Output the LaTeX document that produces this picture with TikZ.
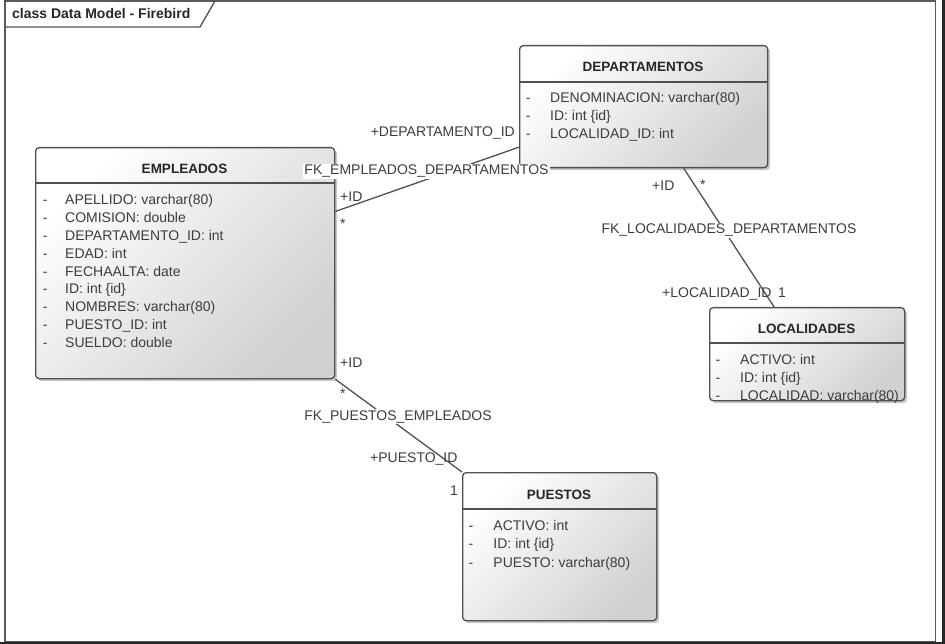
\documentclass[tikz,border=0pt]{standalone}
\usepackage{fontspec}
\setmainfont{Liberation Sans}
\usetikzlibrary{shadows}
\definecolor{ln}{HTML}{505050}
\definecolor{tx}{HTML}{3C3C3C}
\definecolor{tt}{HTML}{262626}
\begin{document}
\begin{tikzpicture}[x=1pt,y=-1pt,
  box/.style={draw=ln, line width=1.3pt, rounded corners=3.5pt,
    top color=white, bottom color=black!18, shading angle=45,
    drop shadow={shadow xshift=2.5pt, shadow yshift=-2.5pt, opacity=.3, fill=black!70},
    inner sep=0pt, anchor=north west},
  sep/.style={draw=ln, line width=1.3pt},
  attr/.style={font=\fontsize{14}{16}\selectfont, text=tx, inner sep=0pt, anchor=base west},
  ttl/.style={font=\fontsize{13.5}{16}\selectfont\bfseries, text=tt, inner sep=0pt, anchor=base},
  lbl/.style={font=\fontsize{14}{16}\selectfont, text=tx, inner sep=0pt, anchor=base west},
  fk/.style={font=\fontsize{14}{16}\selectfont, text=tx, inner sep=1pt, anchor=base, fill=white},
  conn/.style={draw=ln, line width=1.3pt}]
\useasboundingbox (0,0) rectangle (945,644);
% frame
\draw[line width=1.5pt, draw=black!65] (5,1) rectangle (935.5,642);
\fill[black!85] (942,0) rectangle (945,644);
\fill[black!85] (0,641.8) rectangle (945,644);
\draw[line width=1.3pt, draw=ln] (5,27) -- (200,27) -- (215,1);
\node[lbl, text=tt, font=\fontsize{14}{16}\selectfont\bfseries] (frametitle) at (12,19) {class Data Model - Firebird};
% EMPLEADOS
\node[box, minimum width=299pt, minimum height=231pt] (emp) at (35,147) {};
\draw[sep] (35,183) -- (334,183);
\node[ttl] (empt) at (184.5,174) {EMPLEADOS};
\foreach \t [count=\i] in {APELLIDO: varchar(80), COMISION: double, DEPARTAMENTO\_ID: int, EDAD: int, FECHAALTA: date, ID: int \{id\}, NOMBRES: varchar(80), PUESTO\_ID: int, SUELDO: double}
  \node[attr] (empa\i) at (42.7,{205+17.8*(\i-1)}) {\makebox[22.3pt][l]{-}\t};
% DEPARTAMENTOS
\node[box, minimum width=248pt, minimum height=122pt] (dept) at (519,45) {};
\draw[sep] (519,82) -- (767,82);
\node[ttl] (deptt) at (643,72) {DEPARTAMENTOS};
\foreach \t [count=\i] in {DENOMINACION: varchar(80), ID: int \{id\}, LOCALIDAD\_ID: int}
  \node[attr] (depta\i) at (525.7,{103+17.7*(\i-1)}) {\makebox[24.3pt][l]{-}\t};
% LOCALIDADES
\node[box, minimum width=195pt, minimum height=93pt] (loc) at (709,307) {};
\draw[sep] (709,343) -- (904,343);
\node[ttl] (loct) at (806.5,334) {LOCALIDADES};
\foreach \t [count=\i] in {ACTIVO: int, ID: int \{id\}, LOCALIDAD: varchar(80)}
  \node[attr] (loca\i) at (715.3,{364+18*(\i-1)}) {\makebox[24.7pt][l]{-}\t};
% PUESTOS
\node[box, minimum width=194pt, minimum height=148pt] (pue) at (462,472) {};
\draw[sep] (462,509) -- (656,509);
\node[ttl] (puet) at (559,499) {PUESTOS};
\foreach \t [count=\i] in {ACTIVO: int, ID: int \{id\}, PUESTO: varchar(80)}
  \node[attr] (puea\i) at (468.3,{530+18.5*(\i-1)}) {\makebox[25pt][l]{-}\t};
% connectors
\draw[conn] (emp.19.35) -- (dept.198.71);
\draw[conn] (dept.-57.4) -- (loc.125.77);
\draw[conn] (emp.south east) -- (pue.north west);
% labels
\node[lbl, anchor=base east] (r1a) at (515,137) {+DEPARTAMENTO\_ID};
\node[fk] (fk1) at (426.5,175) {FK\_EMPLEADOS\_DEPARTAMENTOS};
\node[lbl] (r1b) at (340,202) {+ID};
\node[lbl] (m1b) at (340,229) {*};
\node[lbl] (r2a) at (652,191) {+ID};
\node[lbl] (m2a) at (700,190) {*};
\node[fk] (fk2) at (729,234) {FK\_LOCALIDADES\_DEPARTAMENTOS};
\node[lbl] (r2b) at (662,298) {+LOCALIDAD\_ID};
\node[lbl] (m2b) at (778,298) {1};
\node[lbl] (r3a) at (340,367) {+ID};
\node[lbl] (m3a) at (340,398) {*};
\node[fk] (fk3) at (398,420) {FK\_PUESTOS\_EMPLEADOS};
\node[lbl] (r3b) at (370,462) {+PUESTO\_ID};
\node[lbl] (m3b) at (450,495) {1};
\end{tikzpicture}
\end{document}
